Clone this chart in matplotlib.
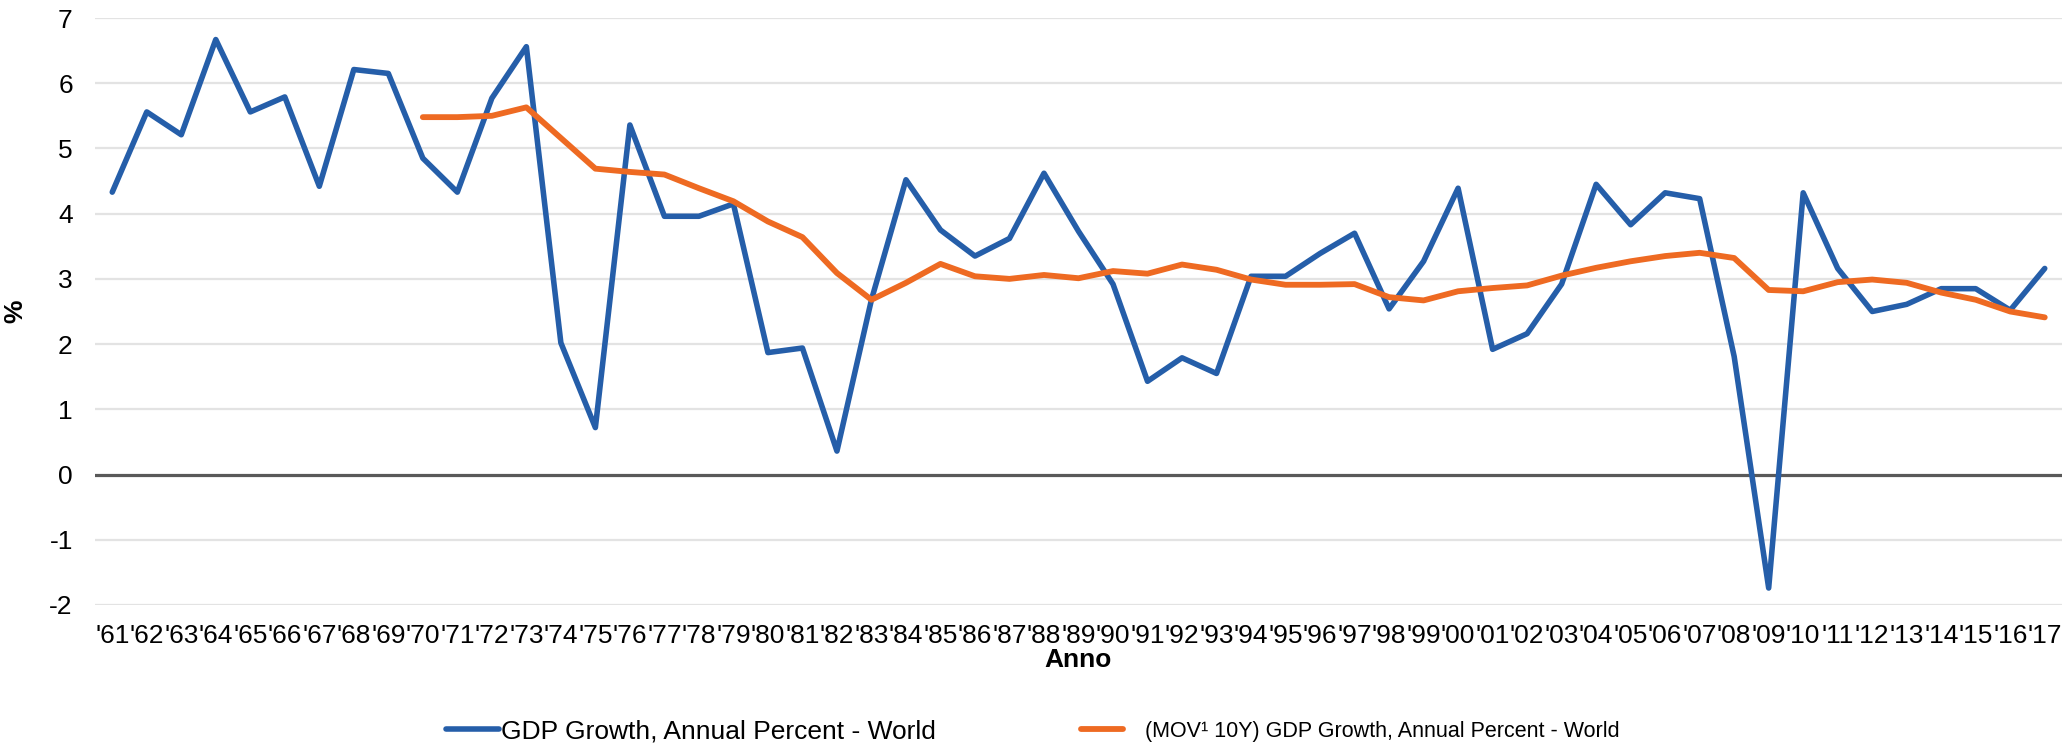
import numpy as np
import matplotlib.pyplot as plt

plt.rcParams['font.family'] = ['Liberation Sans', 'DejaVu Sans']
plt.rcParams['axes.unicode_minus'] = False

# anni '61 - '17
anni = ["'%02d" % (y % 100) for y in range(1961, 2018)]

# crescita PIL mondiale, % annua
gdp = [4.33, 5.56, 5.21, 6.67, 5.56, 5.79, 4.42, 6.21, 6.15, 4.85,
       4.33, 5.77, 6.56, 2.02, 0.72, 5.36, 3.96, 3.96, 4.15, 1.87,
       1.94, 0.36, 2.68, 4.52, 3.75, 3.35, 3.62, 4.62, 3.73, 2.92,
       1.43, 1.79, 1.55, 3.04, 3.04, 3.39, 3.70, 2.54, 3.27, 4.39,
       1.92, 2.16, 2.92, 4.45, 3.83, 4.32, 4.23, 1.81, -1.74, 4.32,
       3.16, 2.50, 2.61, 2.85, 2.85, 2.52, 3.16]

# media mobile 10 anni (parte dal '70)
mov = [np.nan] * 9 + [
    5.48, 5.48, 5.50, 5.63, 5.16, 4.69, 4.64, 4.60, 4.39, 4.19,
    3.88, 3.64, 3.09, 2.68, 2.94, 3.23, 3.04, 3.00, 3.06, 3.01,
    3.12, 3.08, 3.22, 3.14, 2.99, 2.91, 2.91, 2.92, 2.72, 2.67,
    2.81, 2.86, 2.90, 3.05, 3.17, 3.27, 3.35, 3.40, 3.32, 2.83,
    2.81, 2.95, 2.99, 2.94, 2.79, 2.68, 2.50, 2.41]

label_gdp = "GDP Growth, Annual Percent - World"
label_mov = "(MOV\u00b9 10Y) GDP Growth, Annual Percent - World"

blu = "#255EA9"
arancio = "#EE6A22"

x = np.arange(len(anni))

fig = plt.figure(figsize=(20.72, 7.46), dpi=100)
ax = fig.add_axes([95 / 2072, 1 - 605 / 746, (2062 - 95) / 2072, (605 - 18) / 746])

# griglia e linea dello zero
for v in range(-2, 8):
    if v != 0:
        ax.axhline(v, color="#E3E3E3", lw=1.6, zorder=0)
ax.axhline(0, color="#595959", lw=2.3, zorder=1)

l1, = ax.plot(x, gdp, color=blu, lw=4.0, solid_joinstyle="round",
              solid_capstyle="round", zorder=3)
l2, = ax.plot(x, mov, color=arancio, lw=4.2, solid_joinstyle="round",
              solid_capstyle="round", zorder=4)

ax.set_xlim(-0.5, len(anni) - 0.5)
ax.set_ylim(-2, 7)
ax.set_yticks(range(-2, 8))
ax.set_xticks(x)
ax.set_xticklabels(anni)
ax.tick_params(axis="both", length=0, labelsize=19)
ax.tick_params(axis="y", pad=16)
ax.tick_params(axis="x", pad=14)
for s in ax.spines.values():
    s.set_visible(False)

ax.set_ylabel("%", fontsize=19, fontweight="bold")
ax.yaxis.set_label_coords(-0.0345, 0.5)
ax.set_xlabel("Anno", fontsize=19, fontweight="bold", labelpad=0)

# legende separate (dimensioni del testo diverse)
leg1 = fig.legend([l1], [label_gdp], loc="center left",
                  bbox_to_anchor=(446 / 2072, 1 - 731 / 746), frameon=False,
                  fontsize=19, handlelength=2.0, handletextpad=0.1,
                  borderpad=0, borderaxespad=0)
leg2 = fig.legend([l2], [label_mov], loc="center left",
                  bbox_to_anchor=(1081 / 2072, 1 - 731 / 746), frameon=False,
                  fontsize=15.5, handlelength=1.95, handletextpad=1.0,
                  borderpad=0, borderaxespad=0)

fig.savefig("out.png", dpi=100)
